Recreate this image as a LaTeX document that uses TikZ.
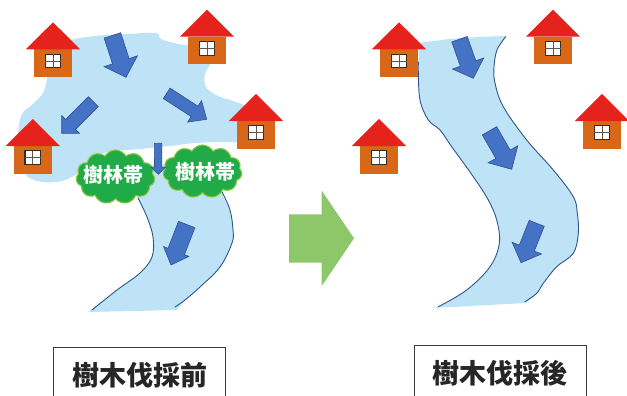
\documentclass[tikz,border=0pt]{standalone}
\usepackage{fontspec}
\newfontfamily\cjk{Noto Sans CJK JP}
\usetikzlibrary{calc,shapes.symbols}

\definecolor{water}{RGB}{190,227,247}
\definecolor{bankline}{RGB}{46,84,138}
\definecolor{flowblue}{RGB}{68,114,196}
\definecolor{flowedge}{RGB}{47,82,143}
\definecolor{roofred}{RGB}{230,34,28}
\definecolor{wallorange}{RGB}{216,103,24}
\definecolor{winbrown}{RGB}{58,42,34}
\definecolor{treegreen}{RGB}{33,170,72}
\definecolor{treeedge}{RGB}{141,198,63}
\definecolor{stepgreen}{RGB}{141,199,106}
\definecolor{boxline}{RGB}{60,60,60}

\tikzset{
  waterfill/.style={fill=water},
  bank/.style={draw=bankline, line width=0.9pt, line cap=round},
  flowshape/.style={fill=flowblue, draw=flowedge, line width=0.6pt, line join=miter},
  woods/.style={cloud, cloud puffs=11, cloud puff arc=120, cloud ignores aspect,
    fill=treegreen, draw=treeedge, line width=1.1pt, inner sep=0pt, text width=0pt},
  woodlabel/.style={text=white, font=\cjk\bfseries\fontsize{20}{20}\selectfont, inner sep=0pt},
  labelbox/.style={draw=boxline, line width=0.8pt, minimum width=172pt, minimum height=56pt,
    inner sep=0pt, font=\cjk\bfseries\fontsize{27}{27}\selectfont, text=black!85},
  house/.pic={
    \fill[wallorange] (-19,0) rectangle (19,27.5);
    \fill[roofred] (-27.2,0) -- (0,-27) -- (27.2,0) -- cycle;
    \draw[draw=winbrown, line width=1.1pt, fill=white] (-7.8,4.8) rectangle (7.7,18.4);
    \draw[draw=winbrown!80, line width=0.7pt] (0,4.8) -- (0,18.4) (-7.8,11.6) -- (7.7,11.6);
  }
}

% block arrow from tail #1 to tip #2: half shaft width #3, half head width #4, head length #5
\newcommand\flowarrow[5]{%
  \coordinate (hb) at ($(#2)!#5!(#1)$);
  \filldraw[flowshape]
    ($(#1)!#3!90:(#2)$) -- ($(hb)!#3!-90:(#1)$) -- ($(hb)!#4!-90:(#1)$) -- (#2)
    -- ($(hb)!#4!90:(#1)$) -- ($(hb)!#3!90:(#1)$) -- ($(#1)!#3!-90:(#2)$) -- cycle;
}

\begin{document}
\begin{tikzpicture}[x=1pt, y=-1pt]
\useasboundingbox (0,0) rectangle (627,396);

% ---------- before: wide flood area and narrow channel ----------
\fill[waterfill] plot[smooth cycle, tension=0.55] coordinates {
  (66,42) (95,36) (128,34) (156,33) (161,39) (178,44) (198,47) (212,58)
  (205,74) (206,87) (218,96) (236,102) (252,110) (262,130) (252,142)
  (225,142) (195,143) (170,146) (140,149) (108,152) (88,160) (80,172)
  (62,181) (42,182) (27,176) (20,160) (18,135) (22,114) (33,104)
  (43,93) (47,79) (50,60)};

\fill[waterfill] plot[smooth, tension=0.6] coordinates {
  (128,165) (138,198) (147,217) (153,237) (152,257) (140,273) (117,290) (88,312)}
  -- plot[smooth, tension=0.6] coordinates {
  (177,310) (185,300) (200,287) (220,267) (232,243) (233,230) (230,210) (222,192) (226,165)}
  -- cycle;

\draw[bank] plot[smooth, tension=0.6] coordinates {
  (138,198) (147,217) (153,237) (152,257) (140,273) (117,290) (92,310)};
\draw[bank] plot[smooth, tension=0.6] coordinates {
  (222,192) (230,210) (233,230) (232,243) (220,267) (200,287) (185,300) (175,307)};

% ---------- after: single channel ----------
\fill[waterfill] plot[smooth, tension=0.5] coordinates {(419,43) (450,39) (480,37) (506,36)}
  -- plot[smooth, tension=0.6] coordinates {
  (505.7,36.7) (497,50) (494,67) (495,83) (503.3,106.7) (526.7,140) (553.3,170)
  (573.3,196.7) (577.3,213.3) (578.3,233.3) (573.3,253.3) (556.7,266.7)
  (543.3,283.3) (536.7,293.3) (526,303)}
  -- (434,308)
  -- plot[smooth, tension=0.6] coordinates {
  (438.3,306.7) (466.7,290) (490,266.7) (499.3,243.3) (496.7,220) (488.3,200)
  (473.3,176.7) (451.7,146.7) (440,130) (428.3,120) (420,100) (418.3,71.7) (419,50)}
  -- cycle;

\draw[bank] plot[smooth, tension=0.6] coordinates {
  (418.5,62) (418.3,71.7) (420,100) (428.3,120) (440,130) (451.7,146.7) (473.3,176.7)
  (488.3,200) (496.7,220) (499.3,243.3) (490,266.7) (466.7,290) (438.3,306.7)};
\draw[bank] plot[smooth, tension=0.6] coordinates {
  (505.7,36.7) (497,50) (494,67) (495,83) (503.3,106.7) (526.7,140) (553.3,170)
  (573.3,196.7) (577.3,213.3) (578.3,233.3) (573.3,253.3) (556.7,266.7)
  (543.3,283.3) (536.7,293.3) (525,301.7)};

% ---------- flow arrows ----------
\coordinate (f1s) at (112.4,35.4);  \coordinate (f1t) at (126,77.3);
\coordinate (f2s) at (166.7,93.3);  \coordinate (f2t) at (206.7,119.3);
\coordinate (f3s) at (93.3,101.7);  \coordinate (f3t) at (61.7,133.3);
\coordinate (f4s) at (158,143.3);   \coordinate (f4t) at (158.3,174.3);
\coordinate (f5s) at (186.7,224.5); \coordinate (f5t) at (171,265);
\coordinate (g1s) at (459.5,39.2);  \coordinate (g1t) at (473.3,78.3);
\coordinate (g2s) at (489.5,130.8); \coordinate (g2t) at (511.7,169.3);
\coordinate (g3s) at (536.7,223.3); \coordinate (g3t) at (521,262.7);

\flowarrow{f1s}{f1t}{8.7pt}{17.5pt}{16.9pt}
\flowarrow{f2s}{f2t}{6.2pt}{12.8pt}{14.5pt}
\flowarrow{f3s}{f3t}{7pt}{12.5pt}{12.5pt}
\flowarrow{f5s}{f5t}{8.8pt}{13.6pt}{14.5pt}
\flowarrow{g1s}{g1t}{8.2pt}{16.6pt}{15.7pt}
\flowarrow{g2s}{g2t}{8.3pt}{17.1pt}{17.4pt}
\flowarrow{g3s}{g3t}{8.1pt}{15.8pt}{15.7pt}

% ---------- tree belts ----------
\node[woods, minimum width=79pt, minimum height=54pt] (wood1) at (115.5,177) {};
\node[woods, minimum width=79pt, minimum height=53pt] (wood2) at (202.5,171.5) {};
\node[woodlabel] (wood1text) at (113.8,175) {樹林帯};
\node[woodlabel] (wood2text) at (205.8,171.7) {樹林帯};

\flowarrow{f4s}{f4t}{3.7pt}{7.2pt}{7pt}

% ---------- houses ----------
\pic (h1) at (53,49.3) {house};
\pic (h2) at (207,36.7) {house};
\pic (h3) at (256,121) {house};
\pic (h4) at (32.8,146) {house};
\pic (h5) at (399,49.3) {house};
\pic (h6) at (553,36.7) {house};
\pic (h7) at (602,121) {house};
\pic (h8) at (379,146) {house};

% ---------- before -> after ----------
\fill[stepgreen] (289,214.3) -- (321.7,214.3) -- (321.7,190.7) -- (354,238.3)
  -- (321.7,286) -- (321.7,262.7) -- (289,262.7) -- cycle;

% ---------- captions ----------
\node[labelbox] (before) at (139.6,375) {樹木伐採前};
\node[labelbox] (after) at (500,373) {樹木伐採後};
\end{tikzpicture}
\end{document}
